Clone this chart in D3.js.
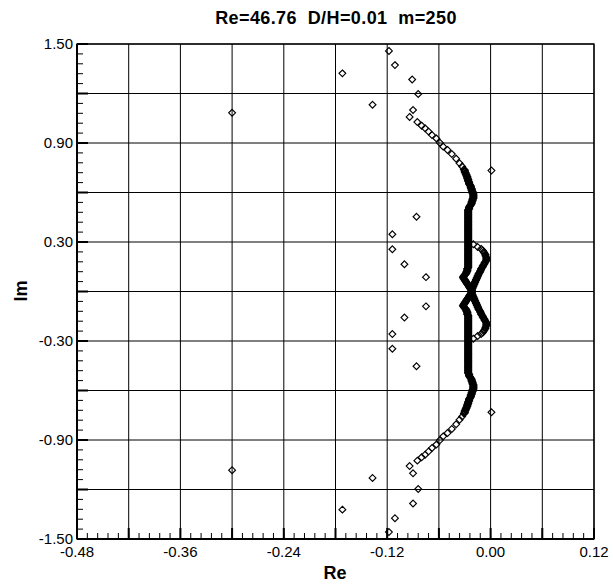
<!DOCTYPE html>
<html><head><meta charset="utf-8">
<script src="https://cdn.jsdelivr.net/npm/d3@7"></script>
<style>body{margin:0;background:#fff}svg{display:block}</style>
</head><body>
<svg id="chart" width="613" height="585"></svg>
<script>
// ---- data ----
const chartTitle = "Re=46.76  D/H=0.01  m=250";
const xLabel = "Re", yLabel = "Im";
const xTickLabels = [-0.48, -0.36, -0.24, -0.12, 0.00, 0.12];
const yTickLabels = [1.50, 0.90, 0.30, -0.30, -0.90, -1.50];

// scattered eigenvalues [Re, Im]
const scatteredModes = [
  [-0.300, 1.083], [-0.300, -1.083],
  [-0.118, 1.458], [-0.118, -1.458],
  [-0.111, 1.372], [-0.111, -1.374],
  [-0.172, 1.322], [-0.172, -1.322],
  [-0.091, 1.285], [-0.090, -1.285],
  [-0.084, 1.197], [-0.084, -1.197],
  [-0.137, 1.132], [-0.137, -1.130],
  [-0.090, 1.100], [-0.090, -1.102],
  [0.001, 0.733], [0.001, -0.732],
  [-0.086, 0.453], [-0.086, -0.453],
  [-0.114, 0.347], [-0.114, -0.347],
  [-0.114, 0.256], [-0.114, -0.258],
  [-0.100, 0.165], [-0.100, -0.158],
  [-0.075, 0.087], [-0.075, -0.090]
];

// main branch, upper half: sparse arm, bend, column, kink [Re, Im]
const upperArm = [
  [-0.094,1.058],[-0.085,1.027],[-0.080,1.005],[-0.076,0.989],[-0.072,0.969],[-0.068,0.948],
  [-0.063,0.928],[-0.059,0.902],[-0.055,0.878],[-0.050,0.858],[-0.045,0.833],[-0.040,0.805],
  [-0.036,0.777],[-0.033,0.758],
  [-0.031,0.740],[-0.030,0.736],[-0.030,0.732],[-0.030,0.728],[-0.030,0.724],[-0.029,0.720],
  [-0.029,0.716],[-0.029,0.712],[-0.028,0.708],[-0.028,0.704],[-0.028,0.700],[-0.027,0.696],
  [-0.027,0.692],[-0.027,0.688],[-0.027,0.684],[-0.026,0.680],[-0.026,0.676],[-0.026,0.672],
  [-0.026,0.668],[-0.025,0.664],[-0.025,0.660],[-0.025,0.656],[-0.025,0.652],[-0.024,0.648],
  [-0.024,0.644],[-0.023,0.640],[-0.023,0.636],[-0.023,0.632],[-0.023,0.628],[-0.022,0.624],
  [-0.022,0.620],[-0.022,0.616],[-0.022,0.612],[-0.021,0.608],[-0.021,0.604],[-0.021,0.600],
  [-0.021,0.596],[-0.020,0.592],[-0.020,0.588],[-0.020,0.584],[-0.020,0.580],[-0.020,0.576],
  [-0.020,0.572],[-0.020,0.568],[-0.020,0.564],[-0.021,0.560],[-0.021,0.556],[-0.021,0.552],
  [-0.021,0.548],[-0.022,0.544],[-0.022,0.540],[-0.022,0.536],[-0.022,0.532],[-0.023,0.528],
  [-0.023,0.524],[-0.024,0.520],[-0.024,0.516],[-0.025,0.512],[-0.025,0.508],[-0.025,0.504],
  [-0.025,0.500],[-0.026,0.496],[-0.026,0.492]
];
const upperColumn = [
  [-0.026,0.488],[-0.026,0.484],[-0.026,0.480],[-0.026,0.476],[-0.026,0.472],[-0.026,0.468],
  [-0.026,0.464],[-0.026,0.460],[-0.026,0.456],[-0.026,0.452],[-0.026,0.448],[-0.026,0.444],
  [-0.026,0.440],[-0.026,0.436],[-0.026,0.432],[-0.026,0.428],[-0.026,0.424],[-0.026,0.420],
  [-0.026,0.416],[-0.026,0.412],[-0.026,0.408],[-0.026,0.404],[-0.026,0.400],[-0.026,0.396],
  [-0.026,0.392],[-0.026,0.388],[-0.026,0.384],[-0.026,0.380],[-0.026,0.376],[-0.026,0.372],
  [-0.026,0.368],[-0.026,0.364],[-0.026,0.360],[-0.026,0.356],[-0.026,0.352],[-0.026,0.348],
  [-0.026,0.344],[-0.026,0.340],[-0.026,0.336],[-0.026,0.332],[-0.026,0.328],[-0.026,0.324],
  [-0.026,0.320],[-0.026,0.316],[-0.026,0.312],[-0.026,0.308],[-0.026,0.304],[-0.026,0.300],
  [-0.026,0.296],[-0.026,0.292],[-0.026,0.288],[-0.026,0.284],[-0.026,0.280],[-0.026,0.276],
  [-0.026,0.272],[-0.026,0.268],[-0.026,0.264],[-0.026,0.260],[-0.026,0.256],[-0.026,0.252],
  [-0.026,0.248],[-0.026,0.244],[-0.026,0.240],[-0.026,0.236],[-0.026,0.232],[-0.026,0.228],
  [-0.026,0.224],[-0.026,0.220],[-0.026,0.216],[-0.026,0.212],[-0.026,0.208],[-0.026,0.204],
  [-0.026,0.200],[-0.026,0.196],[-0.026,0.192],[-0.026,0.188],[-0.026,0.184],[-0.026,0.180],
  [-0.026,0.176],[-0.026,0.172],[-0.026,0.168],[-0.026,0.164],[-0.026,0.160],[-0.026,0.156],
  [-0.026,0.152],[-0.026,0.148],[-0.026,0.144],
  [-0.027,0.140],[-0.027,0.136],[-0.027,0.132],[-0.027,0.128],[-0.027,0.124],[-0.028,0.120],
  [-0.028,0.116],[-0.028,0.112],[-0.029,0.108],[-0.029,0.104],[-0.030,0.100],[-0.031,0.096],
  [-0.031,0.092],[-0.032,0.088],[-0.032,0.084],[-0.031,0.080],[-0.031,0.076],[-0.030,0.072],
  [-0.030,0.068],[-0.029,0.064],[-0.029,0.060],[-0.028,0.056],[-0.028,0.052],[-0.027,0.048],
  [-0.027,0.044],[-0.026,0.040],[-0.026,0.036],[-0.025,0.032],[-0.025,0.028],[-0.024,0.024],
  [-0.024,0.020],[-0.023,0.016],[-0.023,0.012],[-0.022,0.008],[-0.022,0.004]
];

// main branch, lower half [Re, Im]
const lowerArm = [
  [-0.094,-1.058],[-0.085,-1.025],[-0.080,-1.005],[-0.076,-0.989],[-0.072,-0.969],[-0.068,-0.948],
  [-0.063,-0.928],[-0.059,-0.902],[-0.055,-0.878],[-0.050,-0.858],[-0.045,-0.833],[-0.040,-0.805],
  [-0.036,-0.777],[-0.033,-0.758],
  [-0.031,-0.740],[-0.030,-0.736],[-0.030,-0.732],[-0.030,-0.728],[-0.030,-0.724],[-0.029,-0.720],
  [-0.029,-0.716],[-0.029,-0.712],[-0.028,-0.708],[-0.028,-0.704],[-0.028,-0.700],[-0.027,-0.696],
  [-0.027,-0.692],[-0.027,-0.688],[-0.027,-0.684],[-0.026,-0.680],[-0.026,-0.676],[-0.026,-0.672],
  [-0.026,-0.668],[-0.025,-0.664],[-0.025,-0.660],[-0.025,-0.656],[-0.025,-0.652],[-0.024,-0.648],
  [-0.024,-0.644],[-0.023,-0.640],[-0.023,-0.636],[-0.023,-0.632],[-0.023,-0.628],[-0.022,-0.624],
  [-0.022,-0.620],[-0.022,-0.616],[-0.022,-0.612],[-0.021,-0.608],[-0.021,-0.604],[-0.021,-0.600],
  [-0.021,-0.596],[-0.020,-0.592],[-0.020,-0.588],[-0.020,-0.584],[-0.020,-0.580],[-0.020,-0.576],
  [-0.020,-0.572],[-0.020,-0.568],[-0.020,-0.564],[-0.021,-0.560],[-0.021,-0.556],[-0.021,-0.552],
  [-0.021,-0.548],[-0.022,-0.544],[-0.022,-0.540],[-0.022,-0.536],[-0.022,-0.532],[-0.023,-0.528],
  [-0.023,-0.524],[-0.024,-0.520],[-0.024,-0.516],[-0.025,-0.512],[-0.025,-0.508],[-0.025,-0.504],
  [-0.025,-0.500],[-0.026,-0.496],[-0.026,-0.492]
];
const lowerColumn = [
  [-0.026,-0.488],[-0.026,-0.484],[-0.026,-0.480],[-0.026,-0.476],[-0.026,-0.472],[-0.026,-0.468],
  [-0.026,-0.464],[-0.026,-0.460],[-0.026,-0.456],[-0.026,-0.452],[-0.026,-0.448],[-0.026,-0.444],
  [-0.026,-0.440],[-0.026,-0.436],[-0.026,-0.432],[-0.026,-0.428],[-0.026,-0.424],[-0.026,-0.420],
  [-0.026,-0.416],[-0.026,-0.412],[-0.026,-0.408],[-0.026,-0.404],[-0.026,-0.400],[-0.026,-0.396],
  [-0.026,-0.392],[-0.026,-0.388],[-0.026,-0.384],[-0.026,-0.380],[-0.026,-0.376],[-0.026,-0.372],
  [-0.026,-0.368],[-0.026,-0.364],[-0.026,-0.360],[-0.026,-0.356],[-0.026,-0.352],[-0.026,-0.348],
  [-0.026,-0.344],[-0.026,-0.340],[-0.026,-0.336],[-0.026,-0.332],[-0.026,-0.328],[-0.026,-0.324],
  [-0.026,-0.320],[-0.026,-0.316],[-0.026,-0.312],[-0.026,-0.308],[-0.026,-0.304],[-0.026,-0.300],
  [-0.026,-0.296],[-0.026,-0.292],[-0.026,-0.288],[-0.026,-0.284],[-0.026,-0.280],[-0.026,-0.276],
  [-0.026,-0.272],[-0.026,-0.268],[-0.026,-0.264],[-0.026,-0.260],[-0.026,-0.256],[-0.026,-0.252],
  [-0.026,-0.248],[-0.026,-0.244],[-0.026,-0.240],[-0.026,-0.236],[-0.026,-0.232],[-0.026,-0.228],
  [-0.026,-0.224],[-0.026,-0.220],[-0.026,-0.216],[-0.026,-0.212],[-0.026,-0.208],[-0.026,-0.204],
  [-0.026,-0.200],[-0.026,-0.196],[-0.026,-0.192],[-0.026,-0.188],[-0.026,-0.184],[-0.026,-0.180],
  [-0.026,-0.176],[-0.026,-0.172],[-0.026,-0.168],[-0.026,-0.164],[-0.026,-0.160],[-0.026,-0.156],
  [-0.026,-0.152],[-0.026,-0.148],[-0.026,-0.144],
  [-0.027,-0.140],[-0.027,-0.136],[-0.027,-0.132],[-0.027,-0.128],[-0.027,-0.124],[-0.028,-0.120],
  [-0.028,-0.116],[-0.028,-0.112],[-0.029,-0.108],[-0.029,-0.104],[-0.030,-0.100],[-0.031,-0.096],
  [-0.031,-0.092],[-0.032,-0.088],[-0.032,-0.084],[-0.031,-0.080],[-0.031,-0.076],[-0.030,-0.072],
  [-0.030,-0.068],[-0.029,-0.064],[-0.029,-0.060],[-0.028,-0.056],[-0.028,-0.052],[-0.027,-0.048],
  [-0.027,-0.044],[-0.026,-0.040],[-0.026,-0.036],[-0.025,-0.032],[-0.025,-0.028],[-0.024,-0.024],
  [-0.024,-0.020],[-0.023,-0.016],[-0.023,-0.012],[-0.022,-0.008],[-0.022,-0.004]
];

// secondary branch crossing near Im = 0 [Re, Im]
const crossBranch = [
  [-0.020,0.286],[-0.015,0.270],[-0.011,0.258],[-0.009,0.248],[-0.008,0.240],[-0.007,0.232],
  [-0.006,0.224],[-0.006,0.216],[-0.005,0.208],[-0.005,0.200],[-0.005,0.192],[-0.005,0.186],
  [-0.006,0.180],[-0.007,0.174],[-0.007,0.168],[-0.008,0.162],[-0.009,0.156],[-0.009,0.150],
  [-0.010,0.144],[-0.011,0.138],[-0.011,0.132],[-0.012,0.126],[-0.012,0.120],[-0.013,0.114],
  [-0.014,0.108],[-0.014,0.102],[-0.015,0.096],[-0.015,0.090],[-0.016,0.084],[-0.016,0.078],
  [-0.017,0.072],[-0.017,0.066],[-0.018,0.060],[-0.018,0.054],[-0.019,0.048],[-0.019,0.042],
  [-0.020,0.036],[-0.020,0.030],[-0.021,0.024],[-0.021,0.018],[-0.022,0.012],[-0.022,0.006],
  [-0.022,-0.006],[-0.022,-0.012],[-0.021,-0.018],[-0.021,-0.024],[-0.020,-0.030],[-0.020,-0.036],
  [-0.019,-0.042],[-0.019,-0.048],[-0.018,-0.054],[-0.018,-0.060],[-0.017,-0.066],[-0.017,-0.072],
  [-0.016,-0.078],[-0.016,-0.084],[-0.015,-0.090],[-0.015,-0.096],[-0.014,-0.102],[-0.014,-0.108],
  [-0.013,-0.114],[-0.012,-0.120],[-0.012,-0.126],[-0.011,-0.132],[-0.011,-0.138],[-0.010,-0.144],
  [-0.009,-0.150],[-0.009,-0.156],[-0.008,-0.162],[-0.007,-0.168],[-0.007,-0.174],[-0.006,-0.180],
  [-0.005,-0.186],[-0.005,-0.192],[-0.005,-0.200],[-0.005,-0.208],[-0.006,-0.216],[-0.006,-0.224],
  [-0.007,-0.232],[-0.008,-0.240],[-0.009,-0.248],[-0.011,-0.258],[-0.015,-0.270],[-0.020,-0.286]
];

// ---- layout ----
const svg = d3.select("#chart");
const L = 77, R = 594, T = 44, B = 539;
const x = d3.scaleLinear().domain([-0.48, 0.12]).range([L, R]);
const y = d3.scaleLinear().domain([-1.5, 1.5]).range([B, T]);
const font = "'Liberation Sans', Arial, sans-serif";

const xMajor = d3.range(-0.48, 0.1201, 0.06).map(v => +v.toFixed(3));
const yMajor = d3.range(-1.5, 1.5001, 0.3).map(v => +v.toFixed(3));
const xMinor = d3.range(-0.48, 0.1201, 0.012).map(v => +v.toFixed(4));
const yMinor = d3.range(-1.5, 1.5001, 0.06).map(v => +v.toFixed(3));

const g = svg.append("g");
// grid
g.selectAll(".vg").data(xMajor).join("line")
  .attr("x1", d => x(d)).attr("x2", d => x(d)).attr("y1", T).attr("y2", B)
  .attr("stroke", "#000").attr("stroke-width", 1);
g.selectAll(".hg").data(yMajor).join("line")
  .attr("y1", d => y(d)).attr("y2", d => y(d)).attr("x1", L).attr("x2", R)
  .attr("stroke", "#000").attr("stroke-width", 1);

// border
g.append("rect").attr("x", L).attr("y", T).attr("width", R - L).attr("height", B - T)
  .attr("fill", "none").attr("stroke", "#000").attr("stroke-width", 1.3);
g.append("line").attr("x1", L).attr("x2", R).attr("y1", B).attr("y2", B).attr("stroke", "#000").attr("stroke-width", 2);
g.append("line").attr("x1", L).attr("x2", L).attr("y1", T).attr("y2", B).attr("stroke", "#000").attr("stroke-width", 2);

// ticks (inward)
g.selectAll(".xmin").data(xMinor).join("line")
  .attr("x1", d => x(d)).attr("x2", d => x(d)).attr("y1", B).attr("y2", B - 6)
  .attr("stroke", "#000").attr("stroke-width", 1);
g.selectAll(".xmaj").data(xMajor).join("line")
  .attr("x1", d => x(d)).attr("x2", d => x(d)).attr("y1", B).attr("y2", B - 11)
  .attr("stroke", "#000").attr("stroke-width", 2);
g.selectAll(".ymin").data(yMinor).join("line")
  .attr("y1", d => y(d)).attr("y2", d => y(d)).attr("x1", L).attr("x2", L + 6)
  .attr("stroke", "#000").attr("stroke-width", 1);
g.selectAll(".ymaj").data(yMajor).join("line")
  .attr("y1", d => y(d)).attr("y2", d => y(d)).attr("x1", L).attr("x2", L + 11)
  .attr("stroke", "#000").attr("stroke-width", 2);

// tick labels
g.selectAll(".xl").data(xTickLabels).join("text")
  .attr("x", d => x(d)).attr("y", B + 18)
  .attr("text-anchor", "middle").attr("font-family", font).attr("font-size", 15)
  .text(d => d.toFixed(2));
g.selectAll(".yl").data(yTickLabels).join("text")
  .attr("x", L - 4).attr("y", d => y(d)).attr("dy", "0.35em")
  .attr("text-anchor", "end").attr("font-family", font).attr("font-size", 15)
  .text(d => d.toFixed(2));

// titles
svg.append("text").attr("x", 336).attr("y", 24).attr("text-anchor", "middle")
  .attr("font-family", font).attr("font-weight", "bold").attr("font-size", 18)
  .attr("letter-spacing", 0.4)
  .style("white-space", "pre").text(chartTitle);
svg.append("text").attr("x", 335).attr("y", 579).attr("text-anchor", "middle")
  .attr("font-family", font).attr("font-weight", "bold").attr("font-size", 18).text(xLabel);
svg.append("text").attr("transform", "translate(27,291) rotate(-90)").attr("text-anchor", "middle")
  .attr("font-family", font).attr("font-weight", "bold").attr("font-size", 18).text(yLabel);

// markers
const diamond = "M0,-3.4L3.4,0L0,3.4L-3.4,0Z";
const allModes = [].concat(scatteredModes, upperArm, upperColumn, lowerArm, lowerColumn, crossBranch);
svg.append("g").selectAll("path").data(allModes).join("path")
  .attr("d", diamond)
  .attr("transform", d => `translate(${x(d[0])},${y(d[1])})`)
  .attr("fill", "none").attr("stroke", "#000").attr("stroke-width", 1.15);
</script>
</body></html>
